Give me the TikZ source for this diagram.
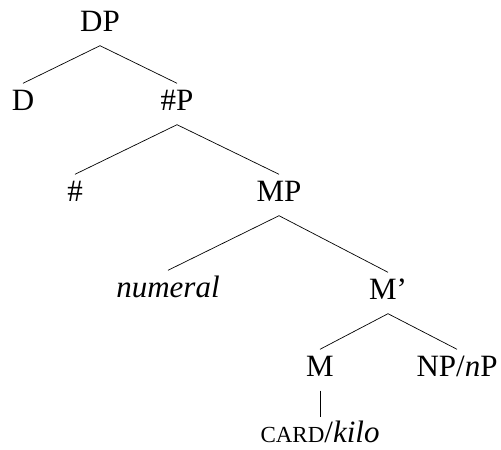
\documentclass[tikz,border=0pt]{standalone}
\usepackage{fontspec}
\setmainfont{Liberation Serif}
\begin{document}
\begin{tikzpicture}[x=1pt,y=1pt,
  lab/.style={font=\fontsize{31}{37}\selectfont, anchor=base, text height=22pt, text depth=8pt, inner xsep=0pt, inner ysep=5.5pt},
  edge/.style={draw=black, line width=0.7pt}]
\useasboundingbox (0,0) rectangle (501,450);
\node[lab] (DP) at (100,418) {DP};
\node[lab] (D) at (23,339) {D};
\node[lab] (HP) at (177,339) {\#P};
\node[lab] (H) at (75,248) {\#};
\node[lab] (MP) at (279,248) {MP};
\node[lab] (num) at (168,152) {\textit{numeral}};
\node[lab] (Mb) at (388,150) {M’};
\node[lab] (M) at (320,73) {M};
\node[lab] (NP) at (457,73) {NP/\textit{n}P};
\node[lab, text height=20pt] (card) at (320,7) {{\fontsize{23}{28}\selectfont CARD}/\textit{kilo}};
\draw[edge] (DP.south) -- (D.north);
\draw[edge] (DP.south) -- (HP.north);
\draw[edge] (HP.south) -- (H.north);
\draw[edge] (HP.south) -- (MP.north);
\draw[edge] (MP.south) -- (num.north);
\draw[edge] (MP.south) -- (Mb.north);
\draw[edge] (Mb.south) -- (M.north);
\draw[edge] (Mb.south) -- (NP.north);
\draw[edge] (M.south) -- (card.north);
\end{tikzpicture}
\end{document}
